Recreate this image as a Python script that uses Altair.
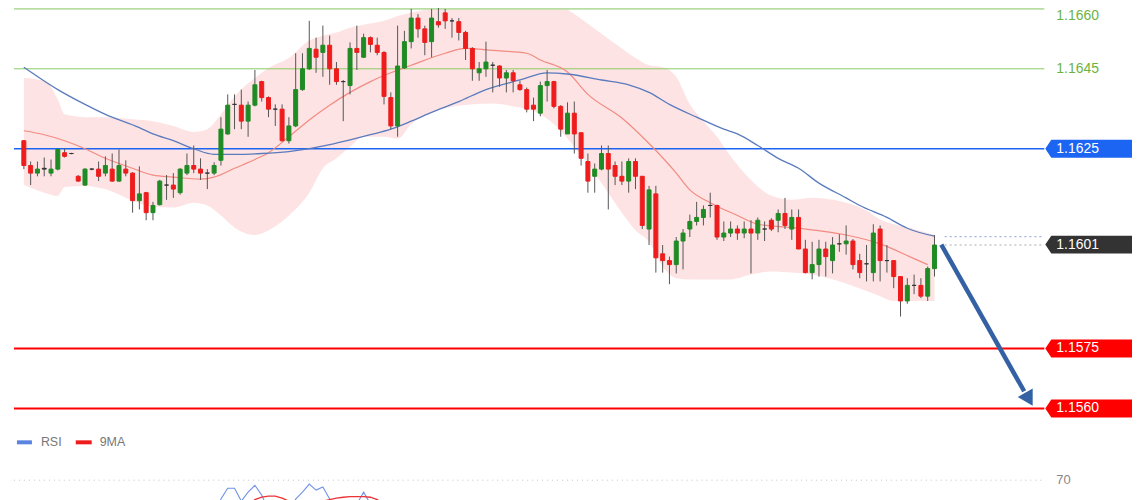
import altair as alt
import pandas as pd

# ---------------- data ----------------
opens = [1.16270,1.16208,1.16189,1.16199,1.16189,1.16199,1.16240,1.16238,1.16181,1.16159,
         1.16199,1.16199,1.16189,1.16199,1.16169,1.16199,1.16189,1.16120,1.16140,1.16090,
         1.16110,1.16159,1.16159,1.16140,1.16189,1.16208,1.16199,1.16189,1.16189,1.16221,
         1.16287,1.16361,1.16359,1.16319,1.16359,1.16418,1.16378,1.16349,1.16349,1.16270,
         1.16307,1.16398,1.16450,1.16499,1.16491,1.16509,1.16450,1.16418,1.16408,1.16501,
         1.16479,1.16528,1.16509,1.16491,1.16378,1.16307,1.16452,1.16518,1.16577,1.16550,
         1.16518,1.16568,1.16590,1.16570,1.16568,1.16541,1.16501,1.16440,1.16450,1.16459,
         1.16457,1.16427,1.16440,1.16410,1.16398,1.16359,1.16339,1.16408,1.16418,1.16356,
         1.16287,1.16339,1.16290,1.16218,1.16181,1.16199,1.16238,1.16208,1.16181,1.16169,
         1.16218,1.16181,1.16049,1.16137,1.15987,1.15970,1.15960,1.16019,1.16049,1.16068,
         1.16078,1.16108,1.16108,1.16029,1.16039,1.16049,1.16039,1.16049,1.16039,1.16049,
         1.16071,1.16071,1.16088,1.16049,1.16078,1.15999,1.15940,1.15960,1.15999,1.15970,
         1.16012,1.16012,1.16019,1.15970,1.15962,1.15940,1.16049,1.15970,1.15970,1.15930,
         1.15869,1.15908,1.15908,1.15881,1.15950]
highs = [1.16272,1.16218,1.16218,1.16228,1.16223,1.16250,1.16250,1.16240,1.16184,1.16201,
         1.16201,1.16218,1.16231,1.16238,1.16248,1.16221,1.16191,1.16206,1.16142,1.16117,
         1.16172,1.16184,1.16189,1.16201,1.16238,1.16258,1.16226,1.16199,1.16216,1.16329,
         1.16386,1.16386,1.16398,1.16368,1.16447,1.16420,1.16381,1.16361,1.16361,1.16329,
         1.16489,1.16489,1.16570,1.16528,1.16558,1.16533,1.16467,1.16422,1.16516,1.16558,
         1.16538,1.16531,1.16528,1.16494,1.16391,1.16558,1.16545,1.16600,1.16587,1.16558,
         1.16600,1.16607,1.16600,1.16577,1.16577,1.16545,1.16504,1.16467,1.16518,1.16467,
         1.16459,1.16447,1.16447,1.16420,1.16403,1.16378,1.16418,1.16447,1.16420,1.16359,
         1.16366,1.16368,1.16290,1.16238,1.16213,1.16258,1.16258,1.16218,1.16218,1.16226,
         1.16226,1.16181,1.16157,1.16157,1.16009,1.15980,1.16029,1.16049,1.16085,1.16117,
         1.16108,1.16140,1.16110,1.16068,1.16068,1.16058,1.16068,1.16071,1.16078,1.16068,
         1.16076,1.16098,1.16127,1.16098,1.16098,1.16022,1.16017,1.16022,1.16017,1.16029,
         1.16036,1.16058,1.16024,1.15987,1.16009,1.16061,1.16058,1.16009,1.15970,1.15930,
         1.15926,1.15935,1.15926,1.15955,1.16034]
lows = [1.16199,1.16159,1.16181,1.16181,1.16181,1.16196,1.16228,1.16236,1.16167,1.16157,
        1.16196,1.16169,1.16181,1.16167,1.16167,1.16181,1.16090,1.16098,1.16071,1.16071,
        1.16108,1.16122,1.16127,1.16135,1.16184,1.16189,1.16172,1.16149,1.16184,1.16208,
        1.16285,1.16299,1.16299,1.16280,1.16356,1.16368,1.16329,1.16307,1.16268,1.16263,
        1.16304,1.16395,1.16447,1.16440,1.16430,1.16410,1.16410,1.16319,1.16386,1.16447,
        1.16477,1.16491,1.16484,1.16361,1.16299,1.16280,1.16450,1.16501,1.16528,1.16484,
        1.16479,1.16553,1.16550,1.16528,1.16521,1.16472,1.16420,1.16420,1.16430,1.16391,
        1.16405,1.16391,1.16391,1.16395,1.16341,1.16319,1.16331,1.16368,1.16351,1.16280,
        1.16287,1.16238,1.16208,1.16140,1.16140,1.16196,1.16098,1.16159,1.16159,1.16140,
        1.16149,1.16049,1.16009,1.15940,1.15940,1.15911,1.15938,1.15948,1.16029,1.16058,
        1.16058,1.16078,1.16022,1.16019,1.16029,1.16022,1.16026,1.15938,1.16022,1.16019,
        1.16044,1.16041,1.16049,1.16022,1.15999,1.15938,1.15923,1.15930,1.15930,1.15938,
        1.15992,1.15985,1.15948,1.15926,1.15918,1.15918,1.15918,1.15940,1.15901,1.15830,
        1.15862,1.15886,1.15876,1.15869,1.15930]
closes = [1.16208,1.16189,1.16199,1.16201,1.16199,1.16248,1.16231,1.16238,1.16169,1.16199,
          1.16199,1.16181,1.16208,1.16169,1.16208,1.16189,1.16120,1.16137,1.16090,1.16108,
          1.16169,1.16159,1.16149,1.16199,1.16208,1.16199,1.16189,1.16189,1.16208,1.16299,
          1.16359,1.16361,1.16319,1.16359,1.16410,1.16378,1.16349,1.16349,1.16270,1.16307,
          1.16398,1.16450,1.16501,1.16479,1.16509,1.16450,1.16418,1.16418,1.16501,1.16491,
          1.16528,1.16511,1.16491,1.16381,1.16307,1.16457,1.16518,1.16577,1.16550,1.16516,
          1.16577,1.16560,1.16570,1.16570,1.16541,1.16501,1.16450,1.16450,1.16467,1.16459,
          1.16427,1.16440,1.16420,1.16398,1.16349,1.16349,1.16408,1.16418,1.16356,1.16299,
          1.16339,1.16287,1.16226,1.16169,1.16199,1.16238,1.16199,1.16181,1.16169,1.16218,
          1.16181,1.16058,1.16147,1.15977,1.15970,1.15960,1.16019,1.16039,1.16068,1.16078,
          1.16098,1.16108,1.16029,1.16039,1.16049,1.16039,1.16049,1.16039,1.16071,1.16049,
          1.16049,1.16088,1.16058,1.16078,1.15999,1.15940,1.15960,1.15999,1.15980,1.16009,
          1.16012,1.16019,1.15960,1.15940,1.15962,1.16039,1.15970,1.15970,1.15930,1.15869,
          1.15908,1.15908,1.15881,1.15950,1.16009]

ma_idx = [0,3,6,9,12,16,19,22,26,28,31,34,36,39,42,45,48,51,54,57,
          62,65,69,74,76,80,83,88,92,96,98,101,105,108,114,121,126,131,133]
ma_val = [1.16295,1.16285,1.16270,1.16250,1.16226,1.16201,1.16184,1.16179,1.16174,1.16179,
          1.16201,1.16223,1.16240,1.16280,1.16322,1.16359,1.16391,1.16418,1.16440,1.16459,
          1.16489,1.16501,1.16496,1.16489,1.16472,1.16442,1.16386,1.16327,1.16263,1.16189,
          1.16147,1.16115,1.16083,1.16061,1.16051,1.16034,1.16012,1.15975,1.15960]

slow_idx = [0,5,9,12,17,19,22,25,28,31,35,39,42,45,48,51,54,57,60,64,
            68,73,77,80,85,89,92,95,99,103,105,108,111,114,117,121,123,127,130,134]
slow_val = [1.16454,1.16398,1.16361,1.16336,1.16303,1.16287,1.16270,1.16250,1.16236,1.16236,
            1.16238,1.16243,1.16250,1.16260,1.16272,1.16285,1.16299,1.16319,1.16341,1.16368,
            1.16398,1.16422,1.16440,1.16437,1.16422,1.16410,1.16391,1.16361,1.16329,1.16299,
            1.16287,1.16258,1.16226,1.16201,1.16164,1.16127,1.16108,1.16078,1.16051,1.16031]

band_idx = [0,3,5,6,9,12,16,19,22,25,27,29,31,34,36,39,42,44,46,48,
            50,53,55,57,60,66,69,72,76,79,81,83,85,88,90,92,94,96,98,100,
            102,104,107,110,113,116,118,121,124,126,128,131,134]
band_up = [1.16427,1.16420,1.16373,1.16336,1.16329,1.16329,1.16324,1.16319,1.16307,1.16292,
           1.16299,1.16336,1.16381,1.16427,1.16452,1.16477,1.16521,1.16533,1.16541,1.16553,
           1.16560,1.16570,1.16582,1.16590,1.16600,1.16607,1.16612,1.16617,1.16612,1.16607,
           1.16587,1.16563,1.16538,1.16501,1.16477,1.16459,1.16454,1.16430,1.16361,1.16319,
           1.16280,1.16231,1.16172,1.16132,1.16122,1.16127,1.16125,1.16115,1.16095,1.16073,
           1.16061,1.16049,1.16034]
band_lo = [1.16159,1.16140,1.16132,1.16154,1.16157,1.16149,1.16120,1.16105,1.16103,1.16115,
           1.16108,1.16083,1.16053,1.16034,1.16046,1.16083,1.16140,1.16201,1.16226,1.16255,
           1.16280,1.16280,1.16275,1.16312,1.16341,1.16361,1.16363,1.16356,1.16336,1.16295,
           1.16255,1.16213,1.16164,1.16090,1.16046,1.16017,1.15955,1.15926,1.15923,1.15923,
           1.15923,1.15923,1.15935,1.15943,1.15940,1.15935,1.15928,1.15913,1.15894,1.15881,
           1.15869,1.15869,1.15869]

rsi = [40,38,42,45,44,50,48,45,35,42, 40,43,46,42,48,45,35,40,32,38,
       45,44,42,50,52,48,46,45,52,63.7, 67.3,67.3,63,66,68.3,65,60,55,52,58,
       63.7,66,68.7,66.7,67.7,63.7,58,56,60,62, 66,62,55,50,42,38,55,58,62,56,
       52,58,57,60,58,52,45,38,40,42, 41,38,40,38,35,30,31,40,42,36,
       30,35,30,26,22,25,32,30,28,26, 32,28,20,28,18,17,16,25,28,32,
       34,38,40,32,34,35,34,36,35,38, 38,37,40,37,39,32,27,30,35,33,
       37,38,39,33,30,31,40,34,34,30, 24,29,30,28,38]
rsi_ma = [45,44,43,43,43,44,44,44,43,43, 43,43,44,44,44,44,43,42,41,41,
          41,41,41,42,43,44,45,46,47,50, 53,56,58,61,63.5,64.3,64.7,64.7,64,63,
          62,62,62.5,62.5,63,63.5,64,64.3,64.5,64.5, 64.5,64.3,63.5,62,60,58,57,56,56,56,
          55,55,55,56,56,55,54,52,50,48, 46,44,42,41,40,38,37,37,37,36,
          35,35,34,33,31,30,29,28,28,27, 27,27,26,26,25,24,23,23,23,23,
          24,26,28,30,31,32,33,34,35,36, 36,36,37,37,37,36,35,34,34,34,
          34,34,34,34,34,34,35,35,35,34, 33,32,31,31,31]

level_prices = [1.1660, 1.1645, 1.1625, 1.1575, 1.1560]
level_colors = ["#b9dea4", "#8ccb62", "#1c64f2", "#ff0000", "#ff0000"]
level_widths = [2, 1, 1.5, 2, 2]

label_prices = [1.1645, 1.1625, 1.1601, 1.1575, 1.1560]
label_text_colors = ["#6cb33f", "white", "white", "white", "white"]
top_label_price = 1.1660
tag_prices = [1.1625, 1.1601, 1.1575, 1.1560]
tag_colors = ["#1c64f2", "#333333", "#ff0000", "#ff0000"]

last_close = 1.16009
last_slow = 1.16030
arrow_i = [135.0, 147.2]
arrow_p = [1.16010, 1.15643]
head_i = [147.9]
head_p = [1.15623]

# ---------------- layout / scales ----------------
N = len(opens)
W, H = 1128, 492
PX = 6.881          # pixels per candle
X_OFF = 11          # plot-x of the first candle
x_lo = -X_OFF / PX
x_hi = x_lo + W / PX
PXP = 40100         # pixels per price unit
y_hi = 1.1660
y_lo = y_hi - H / PXP
R70, RK = 473, 3    # RSI panel: plot-y of the 70 line, px per RSI point
r_hi = 70 + R70 / RK
r_lo = 70 - (H - R70) / RK

XS = alt.Scale(domain=[x_lo, x_hi], nice=False, zero=False)
YS = alt.Scale(domain=[y_lo, y_hi], nice=False, zero=False)
RS = alt.Scale(domain=[r_lo, r_hi], nice=False, zero=False)
FONT = "Liberation Sans"


def X(f):
    return alt.X(f, scale=XS, axis=None)


def Y(f):
    return alt.Y(f, scale=YS, axis=None)


GREEN, RED = "#1f8b24", "#ee1c1c"
cdf = pd.DataFrame({"i": list(range(N)), "o": opens, "h": highs, "l": lows, "c": closes})
cdf["col"] = [GREEN if c - o > 0.00002 else (RED if o - c > 0.00002 else "#333333")
              for o, c in zip(opens, closes)]

band = alt.Chart(pd.DataFrame({"i": band_idx, "u": band_up, "d": band_lo})).mark_area(
    color="#fde3e3", interpolate="monotone").encode(x=X("i:Q"), y=Y("u:Q"), y2="d:Q")

levels = alt.Chart(pd.DataFrame({"p": level_prices, "col": level_colors, "w": level_widths})).mark_rule().encode(
    x=alt.value(6), x2=alt.value(1040), y=Y("p:Q"),
    color=alt.Color("col:N", scale=None), strokeWidth=alt.StrokeWidth("w:Q", scale=None))

mid = alt.Chart(pd.DataFrame({"i": ma_idx, "v": ma_val})).mark_line(
    color="#f28b82", strokeWidth=1.2, interpolate="monotone").encode(x=X("i:Q"), y=Y("v:Q"))
slow = alt.Chart(pd.DataFrame({"i": slow_idx, "v": slow_val})).mark_line(
    color="#5a7bbd", strokeWidth=1.3, interpolate="monotone").encode(x=X("i:Q"), y=Y("v:Q"))

wicks = alt.Chart(cdf).mark_rule(color="#555555", strokeWidth=1).encode(x=X("i:Q"), y=Y("l:Q"), y2="h:Q")
bodies = alt.Chart(cdf).mark_bar(size=4, strokeWidth=1).encode(
    x=X("i:Q"), y=Y("o:Q"), y2="c:Q",
    color=alt.Color("col:N", scale=None), stroke=alt.Stroke("col:N", scale=None))

ends = alt.Chart(pd.DataFrame({"p": [last_slow, last_close], "col": ["#9fb3dd", "#aaaaaa"]})).mark_rule(
    strokeDash=[2, 3], strokeWidth=1.2).encode(
    x=alt.value(940), x2=alt.value(1040), y=Y("p:Q"), color=alt.Color("col:N", scale=None))

arrow = alt.Chart(pd.DataFrame({"x1": [arrow_i[0]], "x2": [arrow_i[1]], "y1": [arrow_p[0]], "y2": [arrow_p[1]]})).mark_rule(
    color="#3461a3", strokeWidth=4.5).encode(x=X("x1:Q"), x2="x2:Q", y=Y("y1:Q"), y2="y2:Q")
head = alt.Chart(pd.DataFrame({"i": head_i, "p": head_p})).mark_point(
    shape="triangle-up", size=300, filled=True, opacity=1, color="#3461a3", angle=150).encode(
    x=X("i:Q"), y=Y("p:Q"))

TAG = "M-1,0L-0.862,-0.207L1,-0.207L1,0.207L-0.862,0.207Z"
tags = alt.Chart(pd.DataFrame({"p": tag_prices, "col": tag_colors})).mark_point(
    shape=TAG, size=7569, filled=True, opacity=1, strokeWidth=0).encode(
    x=alt.value(1084.5), y=Y("p:Q"), color=alt.Color("col:N", scale=None))
labels = alt.Chart(pd.DataFrame({"p": label_prices, "t": [f"{p:.4f}" for p in label_prices],
                                 "col": label_text_colors})).mark_text(
    align="left", baseline="middle", fontSize=14, font=FONT).encode(
    x=alt.value(1052), y=Y("p:Q"), text="t:N", color=alt.Color("col:N", scale=None))
top_label = alt.Chart(pd.DataFrame({"p": [top_label_price], "t": [f"{top_label_price:.4f}"]})).mark_text(
    align="left", baseline="middle", fontSize=14, font=FONT, color="#6cb33f", dy=7).encode(
    x=alt.value(1052), y=Y("p:Q"), text="t:N")

# ---------------- RSI panel ----------------
rdf = pd.DataFrame({"i": list(range(N)), "r": rsi, "m": rsi_ma})
rsi_line = alt.Chart(rdf).mark_line(color="#7092e6", strokeWidth=1.1).encode(
    x=X("i:Q"), y=alt.Y("r:Q", scale=RS, axis=None))
rsi_ma_line = alt.Chart(rdf).mark_line(color="#ee3333", strokeWidth=1.3).encode(
    x=X("i:Q"), y=alt.Y("m:Q", scale=RS, axis=None))
r70 = alt.Chart(pd.DataFrame({"v": [70]})).mark_rule(color="#c4c4c4", strokeDash=[1, 4], strokeWidth=1).encode(
    x=alt.value(6), x2=alt.value(1040), y=alt.Y("v:Q", scale=RS, axis=None))
r70_lab = alt.Chart(pd.DataFrame({"v": [70]})).mark_text(
    align="left", baseline="middle", fontSize=13, font=FONT, color="#888888").encode(
    x=alt.value(1052), y=alt.Y("v:Q", scale=RS, axis=None), text="v:Q")

one = pd.DataFrame({"k": [0]})
leg_rsi = alt.Chart(one).mark_rule(color="#5b83e0", strokeWidth=4).encode(
    x=alt.value(9), x2=alt.value(24), y=alt.value(435))
leg_ma = alt.Chart(one).mark_rule(color="#ee1c1c", strokeWidth=4).encode(
    x=alt.value(68), x2=alt.value(84), y=alt.value(435))
leg_t1 = alt.Chart(one).mark_text(align="left", baseline="middle", fontSize=12.5, font=FONT, color="#777777").encode(
    x=alt.value(33), y=alt.value(435), text=alt.value("RSI"))
leg_t2 = alt.Chart(one).mark_text(align="left", baseline="middle", fontSize=12.5, font=FONT, color="#777777").encode(
    x=alt.value(92), y=alt.value(435), text=alt.value("9MA"))

chart = alt.layer(
    band, levels, mid, slow, wicks, bodies, ends, arrow, head, tags, labels, top_label,
    r70, rsi_line, rsi_ma_line, r70_lab, leg_rsi, leg_ma, leg_t1, leg_t2
).resolve_scale(y="independent").properties(
    width=W, height=H, padding=0, autosize=alt.AutoSizeParams(type="none"),
    background="white"
).configure_view(stroke=None)

chart.save("out.html", embed_options={"renderer": "svg", "actions": False})
